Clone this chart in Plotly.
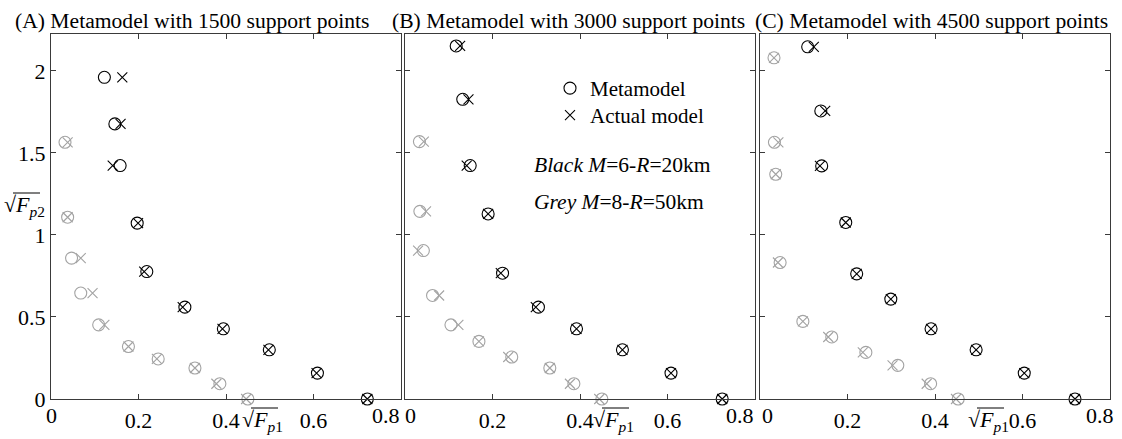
import plotly.graph_objects as go

# ---- data: sqrt(Fp1) / sqrt(Fp2) pairs -------------------------------------
# Panel A: 1500 support points
a_black_meta_x = [0.122, 0.146, 0.158, 0.197, 0.219, 0.306, 0.394, 0.499, 0.609, 0.723]
a_black_act_x = [0.163, 0.159, 0.141, 0.199, 0.213, 0.301, 0.392, 0.497, 0.607, 0.723]
a_black_y = [1.961, 1.677, 1.423, 1.072, 0.777, 0.560, 0.428, 0.300, 0.158, 0.0]
a_grey_meta_x = [0.032, 0.038, 0.047, 0.068, 0.109, 0.177, 0.245, 0.329, 0.386, 0.450]
a_grey_act_x = [0.038, 0.038, 0.068, 0.095, 0.122, 0.177, 0.242, 0.329, 0.378, 0.446]
a_grey_y = [1.565, 1.108, 0.859, 0.646, 0.452, 0.320, 0.244, 0.189, 0.093, 0.0]

# Panel B: 3000 support points
b_black_meta_x = [0.117, 0.132, 0.149, 0.190, 0.223, 0.305, 0.392, 0.497, 0.608, 0.725]
b_black_act_x = [0.126, 0.145, 0.141, 0.190, 0.219, 0.299, 0.392, 0.497, 0.608, 0.725]
b_black_y = [2.152, 1.827, 1.423, 1.128, 0.767, 0.560, 0.428, 0.300, 0.158, 0.0]
b_grey_meta_x = [0.033, 0.034, 0.042, 0.063, 0.105, 0.169, 0.244, 0.331, 0.386, 0.450]
b_grey_act_x = [0.043, 0.048, 0.030, 0.078, 0.122, 0.169, 0.236, 0.331, 0.377, 0.444]
b_grey_y = [1.569, 1.144, 0.905, 0.631, 0.452, 0.351, 0.256, 0.189, 0.093, 0.0]

# Panel C: 4500 support points
c_black_meta_x = [0.109, 0.139, 0.141, 0.196, 0.221, 0.299, 0.391, 0.494, 0.604, 0.720]
c_black_act_x = [0.123, 0.149, 0.137, 0.196, 0.221, 0.299, 0.391, 0.494, 0.604, 0.720]
c_black_y = [2.147, 1.756, 1.421, 1.076, 0.763, 0.609, 0.428, 0.300, 0.158, 0.0]
c_grey_meta_x = [0.032, 0.033, 0.036, 0.046, 0.098, 0.164, 0.242, 0.315, 0.390, 0.453]
c_grey_act_x = [0.032, 0.042, 0.036, 0.041, 0.098, 0.156, 0.235, 0.303, 0.381, 0.448]
c_grey_y = [2.080, 1.565, 1.370, 0.832, 0.473, 0.378, 0.284, 0.205, 0.093, 0.0]

panel_titles = [
    "(A) Metamodel with 1500 support points",
    "(B) Metamodel with 3000 support points",
    "(C) Metamodel with 4500 support points",
]
x_inner_ticks = [0.2, 0.4, 0.6]
x_inner_text = ["0.2", "0.4", "0.6"]
x_edge_ticks = [0, 0.8]
x_edge_text = ["0", "0.8"]
y_ticks = [0, 0.5, 1, 1.5, 2]
y_tick_text = ["0", "0.5", "1", "1.5", "2"]

# ---- styling -----------------------------------------------------------------
W, H = 1122, 439
TOP, BOTTOM = 34, 399          # pixel rows of the plotting area
FONT = "Liberation Serif, Times New Roman, serif"
FS = 22
BLACK = "#000000"
GREY = "#a3a3a3"
AXIS = "#3a3a3a"
panel_px = [(51, 401), (405, 755), (760, 1110)]
# sideways nudge (px) of the edge labels "0" and "0.8" so neighbours don't collide
edge_shift = [(0, -15), (5, -15), (7, -10)]


def px_x(p):
    return p / W


def px_y(p):
    return (BOTTOM - p) / (BOTTOM - TOP)


fig = go.Figure()

panels = [
    (a_black_meta_x, a_black_act_x, a_black_y, a_grey_meta_x, a_grey_act_x, a_grey_y),
    (b_black_meta_x, b_black_act_x, b_black_y, b_grey_meta_x, b_grey_act_x, b_grey_y),
    (c_black_meta_x, c_black_act_x, c_black_y, c_grey_meta_x, c_grey_act_x, c_grey_y),
]

circle = dict(symbol="circle-open", size=12, line=dict(width=1.1))
cross = dict(symbol="x-thin-open", size=10, line=dict(width=1.1))

for i, (bmx, bax, by, gmx, gax, gy) in enumerate(panels):
    xa = "x" if i == 0 else f"x{i + 1}"
    ya = "y" if i == 0 else f"y{i + 1}"
    common = dict(mode="markers", xaxis=xa, yaxis=ya, cliponaxis=False)
    fig.add_trace(go.Scatter(x=gmx, y=gy, marker=dict(color=GREY, **circle),
                             showlegend=False, **common))
    fig.add_trace(go.Scatter(x=gax, y=gy, marker=dict(color=GREY, **cross),
                             showlegend=False, **common))
    fig.add_trace(go.Scatter(x=bmx, y=by, marker=dict(color=BLACK, **circle),
                             name="Metamodel", legend="legend",
                             showlegend=(i == 1), **common))
    fig.add_trace(go.Scatter(x=bax, y=by, marker=dict(color=BLACK, **cross),
                             name="Actual model", legend="legend2",
                             showlegend=(i == 1), **common))

axis_common = dict(
    showgrid=False, zeroline=False, showline=True, mirror="ticks",
    linecolor=AXIS, linewidth=1, ticks="inside", ticklen=5, tickcolor=AXIS,
    tickfont=dict(family=FONT, size=FS, color="black"),
)

legend_common = dict(xanchor="left", yanchor="top", bgcolor="rgba(0,0,0,0)",
                     font=dict(family=FONT, size=21), itemwidth=30)

layout = dict(
    width=W, height=H,
    margin=dict(l=0, r=0, t=TOP, b=H - BOTTOM, pad=0),
    paper_bgcolor="white", plot_bgcolor="white",
    font=dict(family=FONT, size=FS, color="black"),
    legend=dict(x=px_x(550), y=px_y(68), **legend_common),
    legend2=dict(x=px_x(550), y=px_y(95), **legend_common),
)

for i, (l, r) in enumerate(panel_px):
    suffix = "" if i == 0 else str(i + 1)
    layout[f"xaxis{suffix}"] = dict(
        domain=[px_x(l), px_x(r)], range=[0, 0.8], anchor=f"y{suffix}",
        tickvals=x_inner_ticks, ticktext=x_inner_text, ticklabelstandoff=2,
        **axis_common)
    layout[f"yaxis{suffix}"] = dict(
        domain=[0, 1], range=[0, 2.225], anchor=f"x{suffix}",
        tickvals=y_ticks, ticktext=y_tick_text, showticklabels=(i == 0),
        **axis_common)

fig.update_layout(**layout)

# edge tick labels at x = 0 and x = 0.8, nudged apart at the panel joins
for i in range(3):
    xref = "x" if i == 0 else f"x{i + 1}"
    for val, txt, shift in zip(x_edge_ticks, x_edge_text, edge_shift[i]):
        fig.add_annotation(text=txt, x=val, xref=xref, y=px_y(415.5), yref="paper",
                           xshift=shift, xanchor="center", yanchor="middle",
                           showarrow=False, font=dict(family=FONT, size=FS, color="black"))

# panel titles
title_left = [13, 390, 753]
for txt, xl in zip(panel_titles, title_left):
    fig.add_annotation(text=txt, x=px_x(xl), y=px_y(21), xref="paper", yref="paper",
                       xanchor="left", yanchor="middle", showarrow=False,
                       font=dict(family=FONT, size=21.6, color="black"))


# square-root axis labels, with a drawn vinculum over the radicand
def sqrt_label(cx, cy, sub):
    fig.add_annotation(text=f"√<i>F</i><sub><i>p</i>{sub}</sub>",
                       x=px_x(cx), y=px_y(cy), xref="paper", yref="paper",
                       xanchor="center", yanchor="middle", showarrow=False,
                       font=dict(family=FONT, size=22, color="black"))
    fig.add_shape(type="line", xref="paper", yref="paper",
                  x0=px_x(cx - 11), x1=px_x(cx + 16),
                  y0=px_y(cy - 13), y1=px_y(cy - 13),
                  line=dict(color="black", width=1))


sqrt_label(24, 206, "2")
for cx in (262, 613, 988):
    sqrt_label(cx, 421, "1")

# condition notes inside panel B
fig.add_annotation(text="<i>Black M</i>=6-<i>R</i>=20km", x=px_x(532), y=px_y(165),
                   xref="paper", yref="paper", xanchor="left", yanchor="middle",
                   showarrow=False, font=dict(family=FONT, size=21.5, color="black"))
fig.add_annotation(text="<i>Grey M</i>=8-<i>R</i>=50km", x=px_x(532), y=px_y(202),
                   xref="paper", yref="paper", xanchor="left", yanchor="middle",
                   showarrow=False, font=dict(family=FONT, size=21.5, color="black"))

fig.write_html("out.html")
